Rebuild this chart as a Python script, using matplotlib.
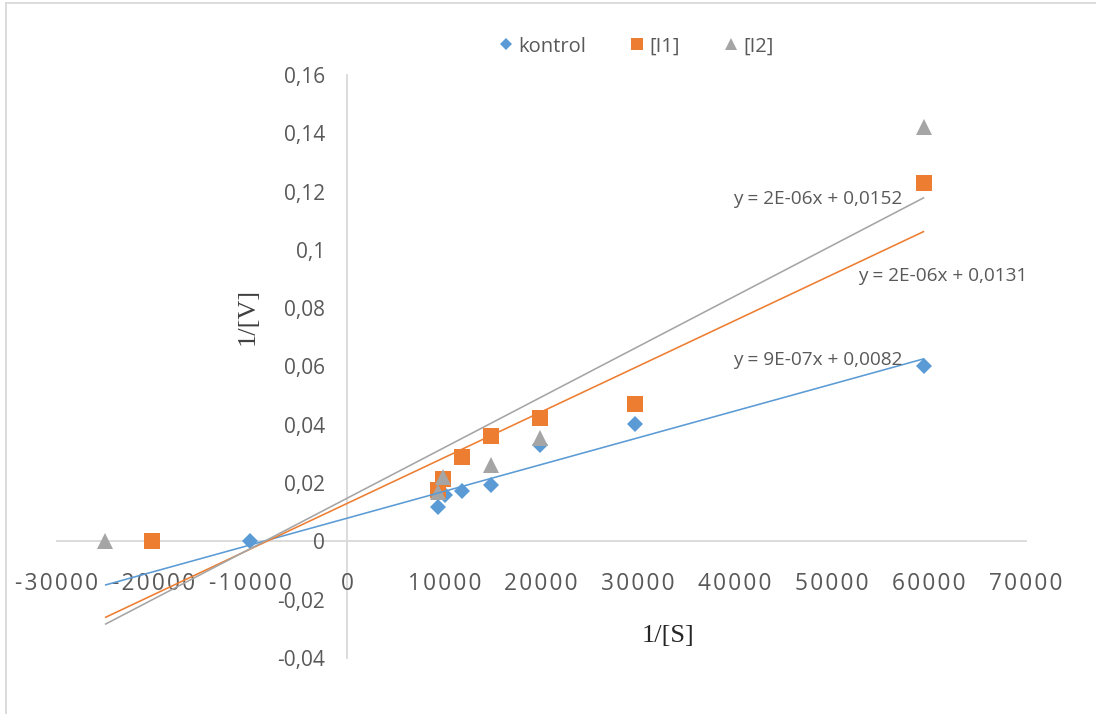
import numpy as np
import matplotlib
matplotlib.use("Agg")
import matplotlib.pyplot as plt
from matplotlib.ticker import FuncFormatter
from matplotlib.lines import Line2D

# ---- data ----
series_names = ["kontrol", "[I1]", "[I2]"]

kontrol_x = [-10000, 9350, 10100, 11860, 14850, 19900, 29700, 59500]
kontrol_y = [0.0, 0.0118, 0.0158, 0.0173, 0.0192, 0.0330, 0.0402, 0.0601]

i1_x = [-20100, 9350, 9900, 11860, 14850, 19900, 29700, 59500]
i1_y = [0.0, 0.0175, 0.0213, 0.0288, 0.0362, 0.0422, 0.0473, 0.1229]

i2_x = [-25000, 9350, 9900, 14850, 19900, 59500]
i2_y = [0.0, 0.0169, 0.0220, 0.0261, 0.0354, 0.1421]

trend_labels = ["y = 9E-07x + 0,0082", "y = 2E-06x + 0,0131", "y = 2E-06x + 0,0152"]

x_ticks = [-30000, -20000, -10000, 0, 10000, 20000, 30000, 40000, 50000, 60000, 70000]
y_ticks = [-0.04, -0.02, 0, 0.02, 0.04, 0.06, 0.08, 0.1, 0.12, 0.14, 0.16]

# ---- style ----
colors = ["#5B9BD5", "#ED7D31", "#A5A5A5"]
markers = ["D", "s", "^"]
msizes = [8.6, 12.0, 12.0]
text_col = "#595959"
axis_col = "#D9D9D9"
W, H = 1096, 714

fig = plt.figure(figsize=(W / 100, H / 100), dpi=100)
ax = fig.add_axes([56.5 / W, 1 - 658 / H, 969.5 / W, 583 / H])
ax.set_xlim(-30000, 70000)
ax.set_ylim(-0.04, 0.16)

xs = [kontrol_x, i1_x, i2_x]
ys = [kontrol_y, i1_y, i2_y]

trend_start = -25000
for i in range(3):
    x = np.array(xs[i], dtype=float)
    y = np.array(ys[i], dtype=float)
    ax.plot(x, y, linestyle="none", marker=markers[i], markersize=msizes[i],
            color=colors[i], markeredgewidth=0, zorder=3, clip_on=False)
for i in range(3):
    x = np.array(xs[i], dtype=float)
    y = np.array(ys[i], dtype=float)
    k, b = np.polyfit(x, y, 1)
    tx = np.array([trend_start, x.max()])
    ax.plot(tx, k * tx + b, color=colors[i], linewidth=1.15, zorder=4,
            solid_capstyle="butt")

# trendline equation labels (positions in data coords)
label_pos = [(39730, 0.0621), (52630, 0.0909), (39730, 0.1173)]
for (lx, ly), s in zip(label_pos, trend_labels):
    ax.text(lx, ly, s, ha="left", va="center", fontsize=13.7,
            family=["Open Sans", "DejaVu Sans"], color=text_col, zorder=5)

# axes styling
for sp in ["top", "right"]:
    ax.spines[sp].set_visible(False)
ax.spines["left"].set_position(("data", 0))
ax.spines["bottom"].set_position(("data", 0))
for sp in ["left", "bottom"]:
    ax.spines[sp].set_color(axis_col)
    ax.spines[sp].set_linewidth(1.3)
    ax.spines[sp].set_zorder(1)

ax.set_xticks(x_ticks)
ax.set_yticks(y_ticks)


def xfmt(v, pos):
    s = "%d" % int(round(v))
    return "\u200a".join(s)


def yfmt(v, pos):
    if abs(v) < 1e-12:
        return "0"
    s = ("%.2f" % v).rstrip("0")
    return s.replace(".", ",")


ax.xaxis.set_major_formatter(FuncFormatter(xfmt))
ax.yaxis.set_major_formatter(FuncFormatter(yfmt))
ax.tick_params(axis="both", length=0)
ax.tick_params(axis="x", pad=22, labelsize=16.3, labelcolor=text_col)
ax.tick_params(axis="y", pad=16, labelsize=15, labelcolor=text_col)
for lab in ax.get_xticklabels() + ax.get_yticklabels():
    lab.set_family(["Open Sans", "DejaVu Sans"])

ax.patch.set_alpha(0)

# axis titles (figure pixel positions)
fig.text(248 / W, 1 - 316 / H, "1/[V]", rotation=90, ha="center", va="center",
         fontsize=19, family="Liberation Serif", color="#404040")
fig.text(668 / W, 1 - 636 / H, "1/[S]", ha="center", va="center",
         fontsize=19, family="Liberation Serif", color="#262626")

# legend
handles = [Line2D([], [], linestyle="none", marker=markers[i], color=colors[i],
                  markersize=msizes[i] * 0.75, markeredgewidth=0) for i in range(3)]
leg = fig.legend(handles, series_names, loc="center", ncol=3,
                 bbox_to_anchor=(636 / W, 1 - 46.5 / H), frameon=False,
                 handlelength=0.7, handletextpad=0.25, columnspacing=2.2,
                 prop={"family": "Open Sans", "size": 14.5})
for t in leg.get_texts():
    t.set_color(text_col)

# outer chart frame
fig.add_artist(Line2D([5.5 / W, 5.5 / W], [0, 1 - 3 / H], transform=fig.transFigure,
                      color=axis_col, linewidth=1.3))
fig.add_artist(Line2D([5.5 / W, 1], [1 - 3 / H, 1 - 3 / H], transform=fig.transFigure,
                      color=axis_col, linewidth=1.3))

fig.savefig("out.png", dpi=100, facecolor="white")
